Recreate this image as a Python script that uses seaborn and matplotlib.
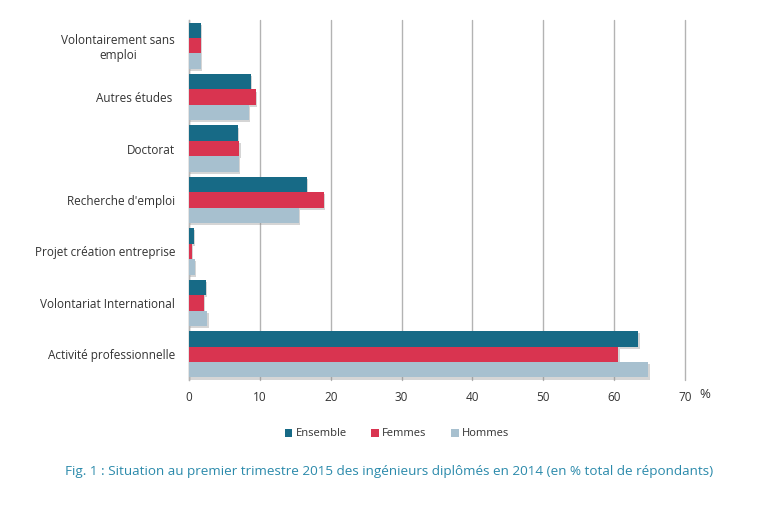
import matplotlib
matplotlib.use("Agg")
import matplotlib.pyplot as plt
import matplotlib.patheffects as pe
import seaborn as sns
import pandas as pd

categories = ["Volontairement sans\nemploi", "Autres études ", "Doctorat", "Recherche d'emploi",
              "Projet création entreprise", "Volontariat International", "Activité professionnelle"]
ensemble = [1.7, 8.7, 6.9, 16.6, 0.7, 2.4, 63.4]
femmes = [1.7, 9.4, 7.1, 19.0, 0.4, 2.1, 60.6]
hommes = [1.7, 8.4, 7.0, 15.5, 0.8, 2.6, 64.8]
series = ["Ensemble", "Femmes", "Hommes"]
xticks = [0, 10, 20, 30, 40, 50, 60, 70]
caption = "Fig. 1 : Situation au premier trimestre 2015 des ingénieurs diplômés en 2014 (en % total de répondants)"

colors = ["#176a86", "#d93450", "#a7c0cf"]

rows = []
for cat, e, f, h in zip(categories, ensemble, femmes, hommes):
    rows.append((cat, series[0], e))
    rows.append((cat, series[1], f))
    rows.append((cat, series[2], h))
df = pd.DataFrame(rows, columns=["cat", "serie", "val"])

sns.set_style("white")
plt.rcParams["font.family"] = ["Open Sans", "DejaVu Sans"]

fig = plt.figure(figsize=(7.75, 5.12), dpi=100)
ax = fig.add_axes([189 / 775, 1 - 380 / 512, (685 - 189) / 775, 360 / 512])

sns.barplot(data=df, y="cat", x="val", hue="serie", hue_order=series, order=categories,
            palette=colors, orient="h", width=0.9, ax=ax, legend=True, saturation=1,
            errorbar=None, zorder=3, linewidth=0, edgecolor="none")

ax.set_xlim(0, 70)
ax.set_ylim(6.5, -0.5)
ax.set_xticks(xticks)
ax.set_xticklabels([str(t) for t in xticks], fontsize=8.5, color="#333333")
ax.tick_params(axis="both", length=0, pad=8)
ax.tick_params(axis="y", pad=10)
for lab in ax.get_yticklabels():
    lab.set_fontsize(8.5)
    lab.set_color("#333333")
    lab.set_multialignment("center")
ax.set_xlabel("")
ax.set_ylabel("")
ax.grid(axis="x", color="#b3b3b3", linewidth=1, zorder=0)
ax.grid(axis="y", visible=False)
for line in ax.get_xgridlines():
    line.set_clip_on(False)
for s in ["top", "right", "bottom"]:
    ax.spines[s].set_visible(False)
ax.spines["left"].set_color("#b3b3b3")
ax.spines["left"].set_linewidth(1)
ax.set_axisbelow(True)

fig.text(699 / 775, 1 - 394 / 512, "%", fontsize=9.5, color="#333333", ha="left", va="center")

leg = ax.legend(loc="center", bbox_to_anchor=(397 / 775, 1 - 434 / 512), bbox_transform=fig.transFigure,
                ncol=3, frameon=False, fontsize=8, handlelength=0.7, handleheight=0.7,
                handletextpad=0.3, columnspacing=2.2)
for h in leg.legend_handles:
    h.set_linewidth(0)
    h.set_edgecolor("none")
    h.set_path_effects([])
for t in leg.get_texts():
    t.set_color("#333333")

for p in ax.patches:
    p.set_linewidth(0)
    p.set_path_effects([pe.SimplePatchShadow(offset=(1, -1.5), shadow_rgbFace="#888888", alpha=0.35),
                        pe.Normal()])

fig.text(389 / 775, 1 - 472 / 512, caption, fontsize=9.7, color="#2b8aab", ha="center", va="center")

fig.savefig("out.png", dpi=100, facecolor="white")
